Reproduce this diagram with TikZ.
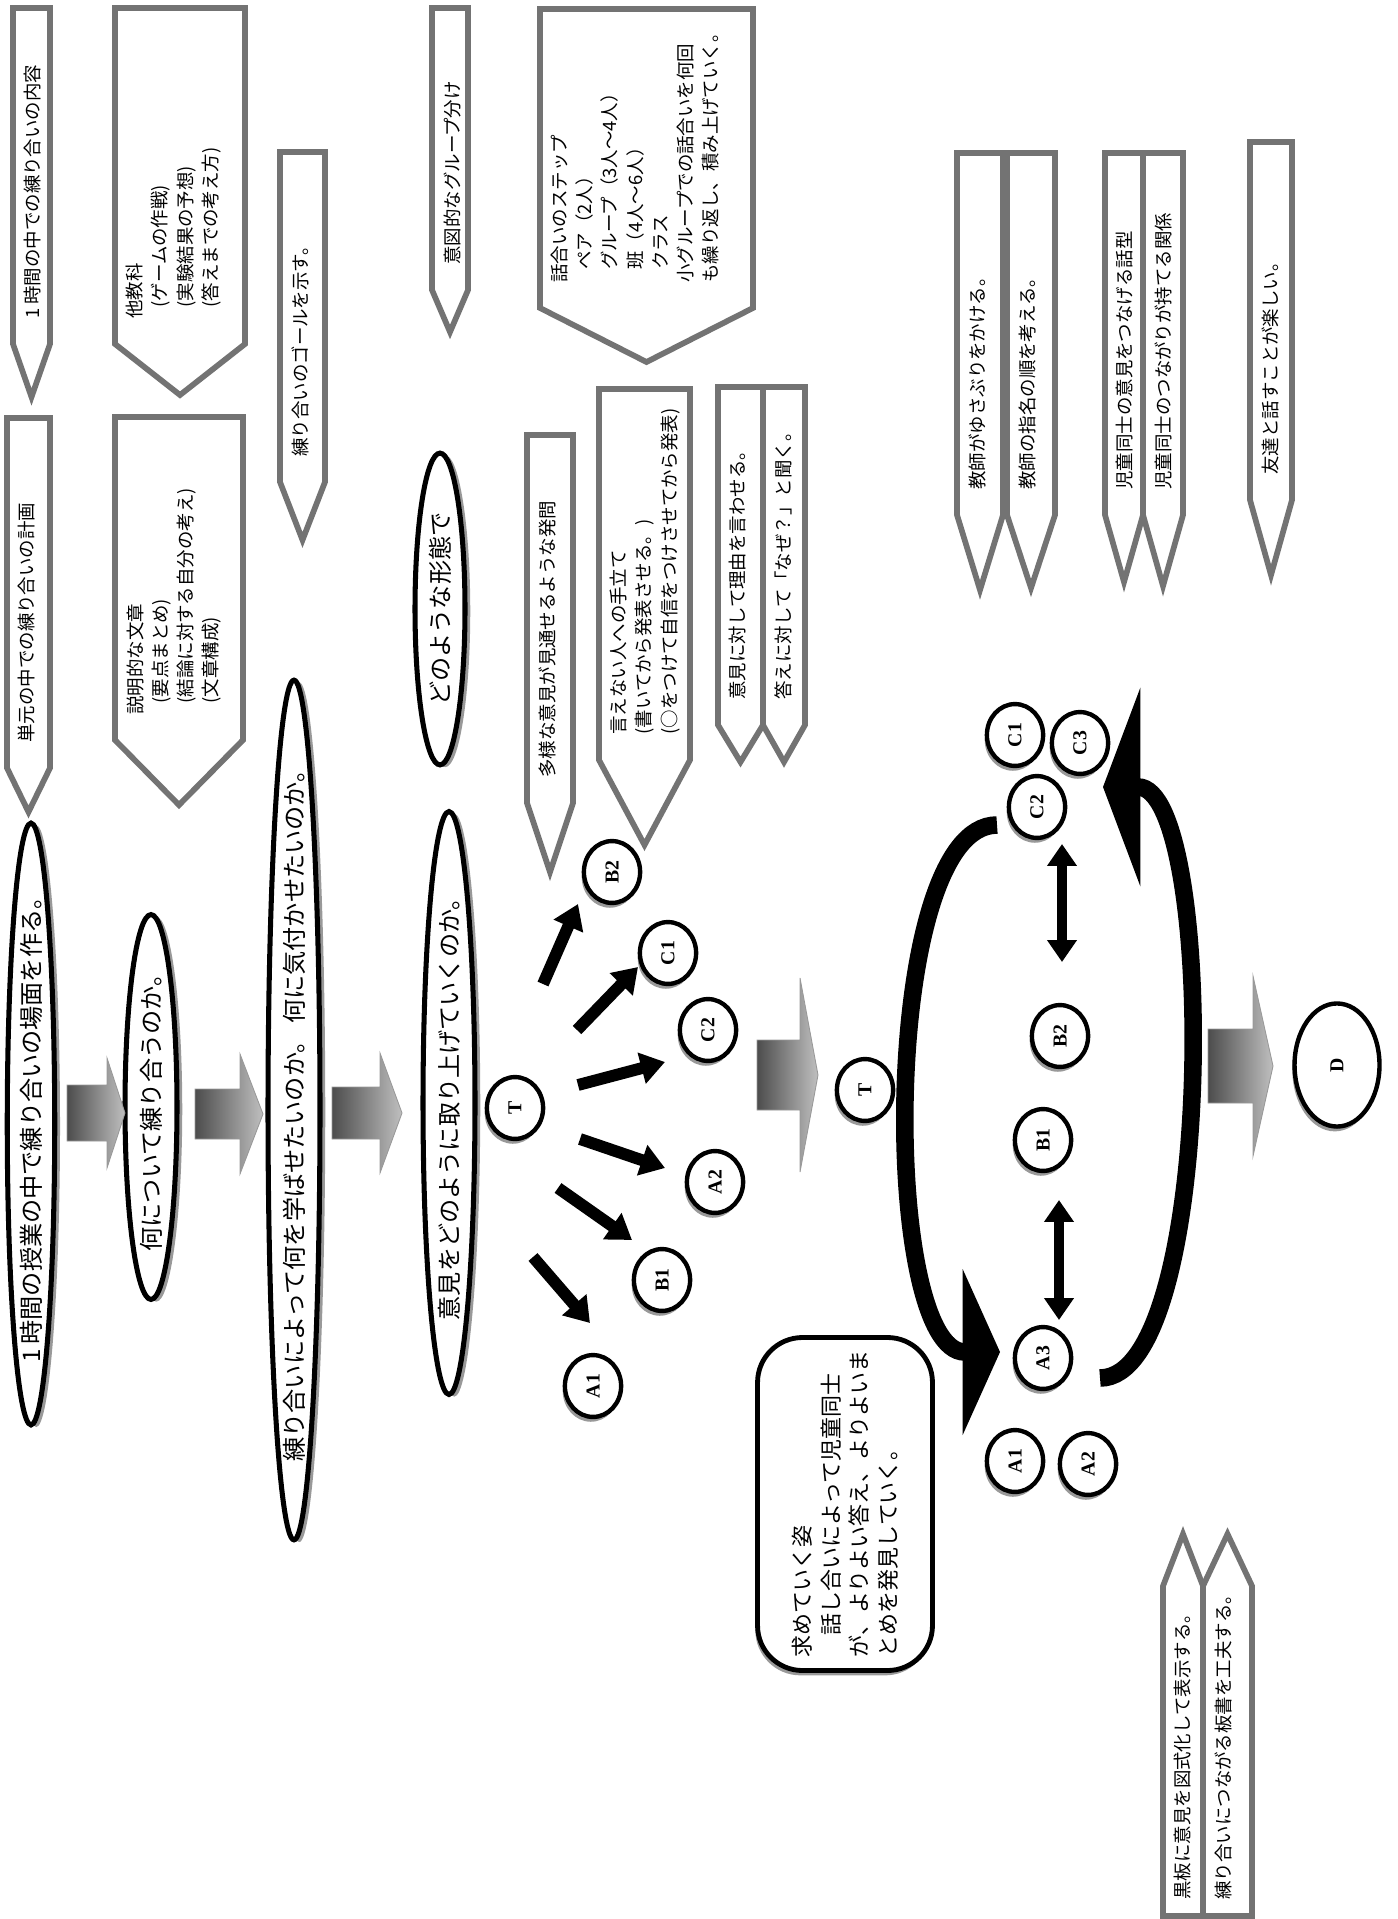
\documentclass[tikz,border=0pt]{standalone}
\usepackage{fontspec}
\setmainfont{Noto Sans CJK JP}
\newfontfamily\circfont{Liberation Serif}
\usetikzlibrary{arrows.meta,calc,shapes.geometric,shadows}

\tikzset{
  tagline/.style={draw=black!55, line width=2.6pt, line join=miter, fill=white},
  tagtext/.style={rotate=90, inner sep=0pt, align=left, anchor=north west,
    font=\fontsize{8.4}{11.4}\selectfont},
  oval/.style={ellipse, draw, line width=2.3pt, fill=white,
    drop shadow={shadow xshift=2.4pt, shadow yshift=-1pt, fill=black!40, opacity=1}},
  ovaltext/.style={rotate=90, inner sep=0pt, font=\fontsize{11}{13}\selectfont},
  pupil/.style={ellipse, draw, line width=2pt, fill=white, rotate=90, inner sep=0pt,
    minimum width=0.99cm, minimum height=0.9cm,
    font=\circfont\bfseries\fontsize{9}{9}\selectfont,
    drop shadow={shadow xshift=-1pt, shadow yshift=-2.2pt, fill=black!40, opacity=1}},
  goalbox/.style={rectangle, rounded corners=0.72cm, draw, line width=2.2pt, fill=white,
    rotate=90, minimum width=5.33cm, minimum height=2.8cm, align=left,
    font=\fontsize{10}{13}\selectfont,
    drop shadow={shadow xshift=-1pt, shadow yshift=-2.2pt, fill=black!40, opacity=1}},
  gblock/.style={left color=black!70, right color=black!25, draw=black!40, line width=0.4pt},
  blk/.style={line width=5.4pt, -{Triangle[length=11pt,width=14pt]}},
  dbl/.style={line width=4.6pt, {Triangle[length=10pt,width=13pt]}-{Triangle[length=10pt,width=13pt]}},
  bigloop/.style={line width=8pt, -{Triangle[length=17pt,width=#1]}}
}

% pentagon label pointing down (or up): name, x left, x right, y end, y corner, y tip, text
\newcommand{\downtag}[7]{%
  \draw[tagline] (#2,#4) -- (#3,#4) -- (#3,#5) -- ({(#2+#3)/2},#6) -- (#2,#5) -- cycle;
  \node[tagtext] (#1) at ($(#2,#5)+(11,-25)$) {#7};}
\newcommand{\uptag}[7]{%
  \draw[tagline] (#2,#4) -- (#3,#4) -- (#3,#5) -- ({(#2+#3)/2},#6) -- (#2,#5) -- cycle;
  \node[tagtext] (#1) at ($(#2,#4)+(11,-16)$) {#7};}
% gray block arrow: x start, x tip, x head base, y, shaft half, head half
\newcommand{\fatarrow}[6]{%
  \path[gblock] (#1,#4-#5) -- (#3,#4-#5) -- (#3,#4-#6) -- (#2,#4) -- (#3,#4+#6) -- (#3,#4+#5) -- (#1,#4+#5) -- cycle;}

\begin{document}
\begin{tikzpicture}[x=0.016cm, y=-0.016cm]
  \useasboundingbox (0,0) rectangle (1397,1919);

  % labels on the left
  \downtag{tNaiyou}{13}{50}{8}{344}{397}{1\hspace{0.2em}時間の中での練り合いの内容}
  \downtag{tKeikaku}{7}{50}{418}{768}{812}{単元の中での練り合いの計画}
  \downtag{tTakyoka}{115}{245}{8}{344}{395}{他教科\\\hspace{0.6em}(ゲームの作戦)\\\hspace{0.6em}(実験結果の予想)\\\hspace{0.6em}(答えまでの考え方)}
  \downtag{tSetsumei}{115}{243}{417}{740}{805}{説明的な文章\\\hspace{0.6em}(要点まとめ)\\\hspace{0.6em}(結論に対する自分の考え)\\\hspace{0.6em}(文章構成)}
  \downtag{tGoal}{280}{325}{152}{482}{540}{練り合いのゴールを示す。}
  \downtag{tGroup}{432}{468}{8}{290}{332}{意図的なグループ分け}
  \downtag{tStep}{540}{753}{9}{308}{362}{話合いのステップ\\\hspace{0.7em}ペア（2人）\\\hspace{0.7em}グループ（3人～4人）\\\hspace{0.7em}班（4人～6人）\\\hspace{0.7em}クラス\\小グループでの話合いを何回\\も繰り返し、積み上げていく。}
  \downtag{tTayou}{527}{573}{435}{803}{872}{多様な意見が見通せるような発問}
  \downtag{tIenai}{599}{690}{389}{760}{845}{言えない人への手立て\\(書いてから発表させる。)\\(○をつけて自信をつけさせてから発表)}
  \downtag{tRiyuu}{718}{763}{387}{725}{762}{意見に対して理由を言わせる。}
  \downtag{tNaze}{763}{805}{387}{725}{762}{答えに対して「なぜ？」と聞く。}

  % labels on the right
  \downtag{tYusaburi}{957}{1003}{153}{515}{590}{教師がゆさぶりをかける。}
  \downtag{tShimei}{1007}{1055}{153}{515}{588}{教師の指名の順を考える。}
  \downtag{tWakei}{1105}{1143}{153}{515}{582}{児童同士の意見をつなげる話型}
  \downtag{tKankei}{1143}{1183}{153}{515}{586}{児童同士のつながりが持てる関係}
  \downtag{tTanoshii}{1250}{1292}{142}{500}{575}{友達と話すことが楽しい。}
  \uptag{tKokuban}{1163}{1203}{1916}{1586}{1534}{黒板に意見を図式化して表示する。}
  \uptag{tItasho}{1203}{1252}{1916}{1586}{1534}{練り合いにつながる板書を工夫する。}

  % main steps
  \node[oval, minimum width=0.76cm, minimum height=9.632cm] (E1) at (31,1124) {};
  \node[ovaltext] (E1t) at (E1) {1\hspace{0.2em}時間の授業の中で練り合いの場面を作る。};
  \node[oval, minimum width=0.832cm, minimum height=6.16cm] (E2) at (151,1107) {};
  \node[ovaltext] (E2t) at (E2) {何について練り合うのか。};
  \node[oval, minimum width=0.832cm, minimum height=13.76cm] (E3) at (294,1110) {};
  \node[ovaltext] (E3t) at (E3) {練り合いによって何を学ばせたいのか。 何に気付かせたいのか。};
  \node[oval, minimum width=0.8cm, minimum height=4.99cm] (Ek) at (440,609) {};
  \node[ovaltext] (Ekt) at (Ek) {どのような形態で};
  \node[oval, minimum width=0.832cm, minimum height=9.33cm] (E4) at (449,1103) {};
  \node[ovaltext] (E4t) at (E4) {意見をどのように取り上げていくのか。};

  \fatarrow{67}{125}{107}{1113}{28}{55}
  \fatarrow{195}{263}{240}{1114}{25}{60}
  \fatarrow{332}{402}{380}{1113}{26}{60}

  % teacher and pupils
  \node[pupil] (T1) at (515,1108) {T};
  \node[pupil] (B2) at (612,872) {B2};
  \node[pupil] (C1) at (668,953) {C1};
  \node[pupil] (C2) at (708,1030) {C2};
  \node[pupil] (A2) at (715,1182) {A2};
  \node[pupil] (B1) at (662,1280) {B1};
  \node[pupil] (A1) at (593,1386) {A1};

  \draw[blk] ($(T1)+(18,149)$) -- ($(A1)+(-3,-63)$);
  \draw[blk] ($(T1)+(43,80)$) -- ($(B1)+(-30,-40)$);
  \draw[blk] ($(T1)+(65,31)$) -- ($(A2)+(-50,-14)$);
  \draw[blk] ($(T1)+(63,-23)$) -- ($(C2)+(-43,32)$);
  \draw[blk] ($(T1)+(62,-78)$) -- ($(C1)+(-30,14)$);
  \draw[blk] ($(T1)+(28,-124)$) -- ($(B2)+(-34,32)$);

  \fatarrow{757}{818}{800}{1075}{35}{97}
  \node[pupil] (T2) at (865,1090) {T};

  % pupils talking together
  \node[pupil] (C1b) at (1015,735) {C1};
  \node[pupil] (C3b) at (1080,743) {C3};
  \node[pupil] (C2b) at (1037,807) {C2};
  \node[pupil] (B2b) at (1060,1036) {B2};
  \node[pupil] (B1b) at (1043,1140) {B1};
  \node[pupil] (A3b) at (1043,1358) {A3};
  \node[pupil] (A1b) at (1015,1461) {A1};
  \node[pupil] (A2b) at (1088,1464) {A2};

  \draw[dbl] ($(C2b)+(25,37)$) -- ($(B2b)+(2,-74)$);
  \draw[dbl] ($(B1b)+(16,60)$) -- ($(A3b)+(16,-38)$);
  \draw[bigloop=75pt] ($(C2b)+(-40,18)$) .. controls (880,825) and (880,1352) .. ($(A3b)+(-43,-6)$);
  \draw[bigloop=90pt] ($(A3b)+(57,20)$) .. controls (1217,1378) and (1217,787) .. ($(C3b)+(23,44)$);

  \node[goalbox] (sugata) at (845,1504) {求めていく姿\\　話し合いによって児童同士\\が、よりよい答え、よりよいま\\とめを発見していく。};

  \fatarrow{1208}{1273}{1253}{1066}{37}{90}
  \node[pupil, minimum width=1.97cm, minimum height=1.36cm] (D) at (1337,1065) {D};
\end{tikzpicture}
\end{document}
